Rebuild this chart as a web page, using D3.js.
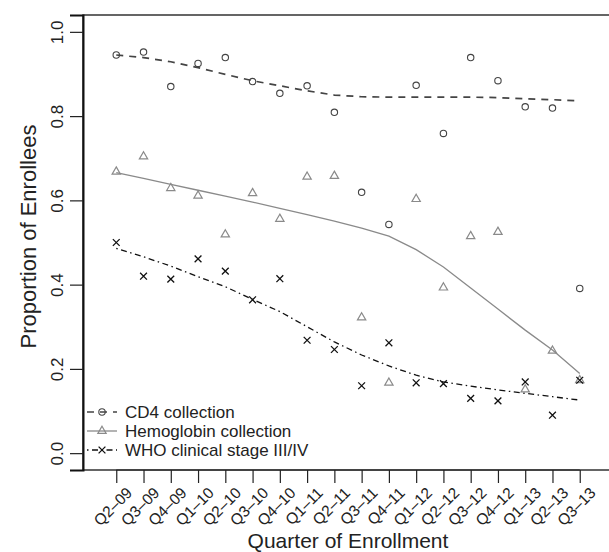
<!DOCTYPE html>
<html>
<head>
<meta charset="utf-8">
<script src="https://cdn.jsdelivr.net/npm/d3@7"></script>
<style>
  html, body { margin: 0; padding: 0; background: #fff; }
  svg { display: block; font-family: "Liberation Sans", Arial, Helvetica, sans-serif; }
</style>
</head>
<body>
<svg id="chart" width="609" height="552"></svg>
<script>
// ---- Data ----
const quarters = ["Q2\u201309","Q3\u201309","Q4\u201309","Q1\u201310","Q2\u201310","Q3\u201310","Q4\u201310",
  "Q1\u201311","Q2\u201311","Q3\u201311","Q4\u201311","Q1\u201312","Q2\u201312","Q3\u201312","Q4\u201312",
  "Q1\u201313","Q2\u201313","Q3\u201313"];

const cd4 = [0.945, 0.952, 0.870, 0.925, 0.939, 0.882, 0.854, 0.872, 0.809, 0.619, 0.543, 0.873, 0.759, 0.939, 0.884, 0.822, 0.819, 0.391];
const hemoglobin = [0.668, 0.704, 0.629, 0.611, 0.519, 0.617, 0.556, 0.656, 0.658, 0.322, 0.167, 0.603, 0.393, 0.515, 0.525, 0.151, 0.243, 0.173];
const who = [0.500, 0.420, 0.413, 0.461, 0.432, 0.364, 0.414, 0.268, 0.246, 0.160, 0.262, 0.167, 0.165, 0.130, 0.124, 0.169, 0.090, 0.173];

// smoothed trend lines
const cd4Smooth = [0.945, 0.939, 0.929, 0.915, 0.899, 0.884, 0.872, 0.860, 0.850, 0.846, 0.845, 0.845, 0.845, 0.845, 0.844, 0.841, 0.839, 0.836];
const hemoSmooth = [0.666, 0.652, 0.638, 0.624, 0.610, 0.596, 0.581, 0.566, 0.551, 0.534, 0.515, 0.483, 0.442, 0.392, 0.342, 0.292, 0.245, 0.189];
const whoSmooth = [0.486, 0.466, 0.444, 0.419, 0.395, 0.365, 0.336, 0.300, 0.264, 0.233, 0.207, 0.185, 0.169, 0.159, 0.150, 0.142, 0.134, 0.126];

const yTicks = [0.0, 0.2, 0.4, 0.6, 0.8, 1.0];
const legendLabels = ["CD4 collection", "Hemoglobin collection", "WHO clinical stage III/IV"];

// ---- Layout ----
const W = 609, H = 552;
const pL = 83, pR = 613, pT = 15, pB = 470;
const svg = d3.select("#chart");

const idx = quarters.map((q, i) => i + 1);
const x = d3.scaleLinear().domain([0.5 - 0.72, 18.5 + 0.72]).range([pL, pR]);
const y = d3.scaleLinear().domain([-0.04, 1.04]).range([pB, pT]);

const cCD4 = "#444", cHemo = "#8a8a8a", cWho = "#111";

// plot frame (right side falls outside the picture)
svg.append("path")
  .attr("d", `M${W},${pT}H${pL}V${pB}H${W}`)
  .attr("fill", "none").attr("stroke", "#333").attr("stroke-width", 1.5);

// y axis
const yAxis = svg.append("g").attr("transform", `translate(${pL},0)`)
  .call(d3.axisLeft(y).tickValues(yTicks).tickSize(13).tickFormat(d3.format(".1f")));
yAxis.select(".domain").attr("stroke", "#111").attr("stroke-width", 2);
yAxis.selectAll(".tick line").attr("stroke", "#222").attr("stroke-width", 1.2);
yAxis.selectAll(".tick text")
  .attr("x", null).attr("dy", "0.35em")
  .attr("transform", "translate(-26,0) rotate(-90)")
  .attr("text-anchor", "middle")
  .attr("font-size", 17).attr("fill", "#222")
  .attr("font-family", "Liberation Sans, Arial, sans-serif");

// x axis
const xAxis = svg.append("g").attr("transform", `translate(0,${pB})`)
  .call(d3.axisBottom(x).tickValues(idx).tickSize(13).tickFormat(""));
xAxis.select(".domain").remove();
xAxis.append("line").attr("x1", x(1)).attr("x2", x(18)).attr("stroke", "#222").attr("stroke-width", 1.2);
xAxis.selectAll(".tick line").attr("stroke", "#222").attr("stroke-width", 1.2);

svg.append("g").selectAll("text").data(quarters).join("text")
  .attr("transform", (d, i) => `translate(${x(i + 1) + 13},${pB + 20}) rotate(-45)`)
  .attr("text-anchor", "end").attr("dy", "0.35em")
  .attr("font-size", 15.5).attr("fill", "#222")
  .text(d => d);

// axis titles
svg.append("text")
  .attr("transform", `translate(28,${(pT + pB) / 2 - 6}) rotate(-90)`)
  .attr("text-anchor", "middle").attr("dy", "0.35em")
  .attr("font-size", 22).attr("fill", "#222")
  .text("Proportion of Enrollees");
svg.append("text")
  .attr("x", (pL + pR) / 2).attr("y", 541)
  .attr("text-anchor", "middle").attr("dy", "0.35em")
  .attr("font-size", 21).attr("fill", "#222")
  .text("Quarter of Enrollment");

// lines
const line = d3.line().x((d, i) => x(i + 1)).y(d => y(d));
const dashCD4 = "7,6", dashWho = "1.5,3.5,6,3.5";
svg.append("path").datum(cd4Smooth).attr("d", line)
  .attr("fill", "none").attr("stroke", cCD4).attr("stroke-width", 1.7).attr("stroke-dasharray", dashCD4);
svg.append("path").datum(hemoSmooth).attr("d", line)
  .attr("fill", "none").attr("stroke", cHemo).attr("stroke-width", 1.3);
svg.append("path").datum(whoSmooth).attr("d", line)
  .attr("fill", "none").attr("stroke", cWho).attr("stroke-width", 1.3).attr("stroke-dasharray", dashWho);

// markers
const triangle = d3.symbol().type(d3.symbolTriangle).size(30);
function drawCircle(g, cx, cy) {
  g.append("circle").attr("cx", cx).attr("cy", cy).attr("r", 3.2)
    .attr("fill", "none").attr("stroke", cCD4).attr("stroke-width", 1.1);
}
function drawTri(g, cx, cy) {
  g.append("path").attr("d", triangle()).attr("transform", `translate(${cx},${cy})`)
    .attr("fill", "none").attr("stroke", cHemo).attr("stroke-width", 1.2);
}
function drawX(g, cx, cy) {
  const s = 3.4;
  g.append("path").attr("d", `M${cx - s},${cy - s}L${cx + s},${cy + s}M${cx - s},${cy + s}L${cx + s},${cy - s}`)
    .attr("stroke", cWho).attr("stroke-width", 1.3).attr("fill", "none");
}
const gm = svg.append("g");
cd4.forEach((v, i) => drawCircle(gm, x(i + 1), y(v)));
hemoglobin.forEach((v, i) => drawTri(gm, x(i + 1), y(v)));
who.forEach((v, i) => drawX(gm, x(i + 1), y(v)));

// legend
const lg = svg.append("g");
const rows = [412, 431, 450];
const lx0 = 87, lx1 = 117, lsx = 102, ltx = 125;
lg.append("line").attr("x1", lx0).attr("x2", lx1).attr("y1", rows[0]).attr("y2", rows[0])
  .attr("stroke", cCD4).attr("stroke-width", 1.7).attr("stroke-dasharray", dashCD4);
drawCircle(lg, lsx, rows[0]);
lg.append("line").attr("x1", lx0).attr("x2", lx1).attr("y1", rows[1]).attr("y2", rows[1])
  .attr("stroke", cHemo).attr("stroke-width", 1.3);
drawTri(lg, lsx, rows[1]);
lg.append("line").attr("x1", lx0).attr("x2", lx1).attr("y1", rows[2]).attr("y2", rows[2])
  .attr("stroke", cWho).attr("stroke-width", 1.3).attr("stroke-dasharray", dashWho);
drawX(lg, lsx, rows[2]);
lg.selectAll("text.lab").data(legendLabels).join("text")
  .attr("class", "lab")
  .attr("x", ltx).attr("y", (d, i) => rows[i]).attr("dy", "0.35em")
  .attr("font-size", 17).attr("fill", "#222")
  .text(d => d);
</script>
</body>
</html>
